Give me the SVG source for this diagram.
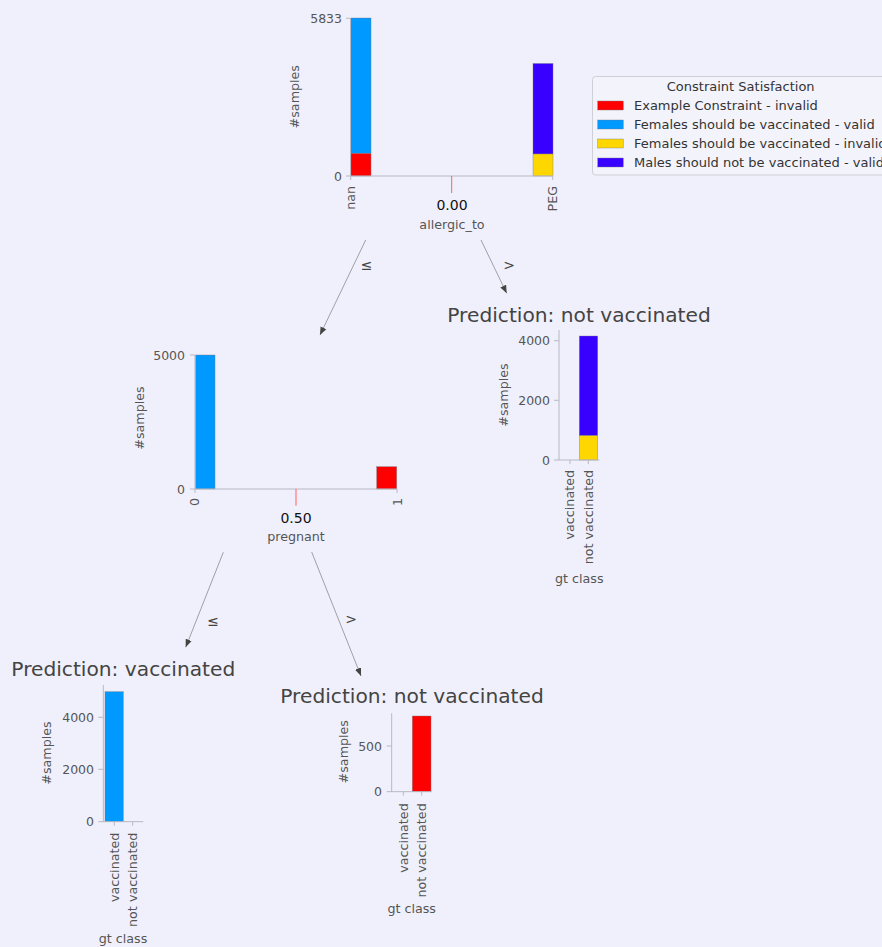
<svg xmlns="http://www.w3.org/2000/svg" width="882" height="947" viewBox="0 0 882 947">
<style>
text{font-family:"DejaVu Sans","Liberation Sans",sans-serif;fill:#444443}
.tk{font-size:12.5px;fill:#555555}
.lab{font-size:12.7px;fill:#555555}
.split{font-size:14px;fill:#111111}
.title{font-size:20.2px;fill:#444443;text-anchor:middle}
.ax{stroke:#b8b8c4;stroke-width:1;fill:none}
.tick{stroke:#b8b8c4;stroke-width:1}
.bar{stroke:#7a7a80;stroke-width:0.4}
.red{fill:#ff0000}.blue{fill:#0099ff}.yel{fill:#ffd700}.pur{fill:#3700ff}
.sl{stroke:#ff6060;stroke-width:1}
.edge{stroke:#8a8a8e;stroke-width:0.8;fill:none;marker-end:url(#ah)}
.el{font-size:14px;fill:#444443;text-anchor:middle}
.leg{font-size:13px;fill:#333333}
</style>
<defs>
<marker id="ah" viewBox="0 0 10 8" refX="10" refY="4" markerWidth="8" markerHeight="7" markerUnits="userSpaceOnUse" orient="auto">
<path d="M0,0 L10,4 L0,8 z" fill="#444443"/>
</marker>
</defs>
<rect x="0" y="0" width="882" height="947" fill="#f0f0fc"/>

<g id="connectors">
<line class="edge" x1="365.7" y1="240" x2="320" y2="335"/>
<line class="edge" x1="481" y1="240" x2="506.7" y2="293.3"/>
<line class="edge" x1="223.3" y1="552.3" x2="185.7" y2="647.3"/>
<line class="edge" x1="311.7" y1="552" x2="361" y2="676"/>
<text class="el" x="366.7" y="270">≤</text>
<text class="el" x="509" y="270">&gt;</text>
<text class="el" x="213" y="626">≤</text>
<text class="el" x="351" y="624">&gt;</text>
</g>

<g id="node-allergic_to">
<text class="lab" transform="translate(295,96.7) rotate(-90)" text-anchor="middle" dy="0.35em">#samples</text>
<rect class="bar blue" x="351" y="18" width="20" height="135.5"/>
<rect class="bar red" x="351" y="153.5" width="20" height="22.5"/>
<rect class="bar pur" x="533" y="63.5" width="20" height="90.5"/>
<rect class="bar yel" x="533" y="154" width="20" height="22"/>
<line class="ax" x1="350.5" y1="18" x2="350.5" y2="176"/>
<line class="ax" x1="350" y1="176" x2="553" y2="176"/>
<line class="tick" x1="346" y1="18.3" x2="350.5" y2="18.3"/>
<line class="tick" x1="346" y1="176" x2="350.5" y2="176"/>
<line class="tick" x1="350.7" y1="176" x2="350.7" y2="180"/>
<line class="tick" x1="552.7" y1="176" x2="552.7" y2="180"/>
<text class="tk" x="342" y="22.8" text-anchor="end">5833</text>
<text class="tk" x="342" y="180.5" text-anchor="end">0</text>
<line class="sl" x1="451.7" y1="176" x2="451.7" y2="193"/>
<text class="split" x="452" y="210" text-anchor="middle">0.00</text>
<text class="lab" x="452" y="229" text-anchor="middle">allergic_to</text>
<text class="lab" transform="translate(350.7,186) rotate(-90)" text-anchor="end" dy="0.35em">nan</text>
<text class="lab" transform="translate(552.7,186) rotate(-90)" text-anchor="end" dy="0.35em">PEG</text>
</g>

<g id="legend">
<rect x="592.5" y="76.5" width="300" height="98.5" rx="3" fill="#f3f3fc" stroke="#cfcfd6" stroke-width="1"/>
<text class="leg" x="740.7" y="91" text-anchor="middle">Constraint Satisfaction</text>
<rect class="bar red" x="597.7" y="101" width="25.6" height="9"/>
<text class="leg" x="634" y="110">Example Constraint - invalid</text>
<rect class="bar blue" x="597.7" y="120" width="25.6" height="9"/>
<text class="leg" x="634" y="129">Females should be vaccinated - valid</text>
<rect class="bar yel" x="597.7" y="139" width="25.6" height="9"/>
<text class="leg" x="634" y="148">Females should be vaccinated - invalid</text>
<rect class="bar pur" x="597.7" y="158" width="25.6" height="9"/>
<text class="leg" x="634" y="167">Males should not be vaccinated - valid</text>
</g>

<g id="node-pregnant">
<text class="lab" transform="translate(139.3,418) rotate(-90)" text-anchor="middle" dy="0.35em">#samples</text>
<rect class="bar blue" x="195.5" y="355" width="19.5" height="134"/>
<rect class="bar red" x="376.7" y="466.7" width="20" height="22.3"/>
<line class="ax" x1="195" y1="355" x2="195" y2="489"/>
<line class="ax" x1="195" y1="489" x2="397.3" y2="489"/>
<line class="tick" x1="190" y1="355" x2="195" y2="355"/>
<line class="tick" x1="190" y1="489" x2="195" y2="489"/>
<line class="tick" x1="195" y1="489" x2="195" y2="493"/>
<line class="tick" x1="397" y1="489" x2="397" y2="493"/>
<text class="tk" x="185" y="359.5" text-anchor="end">5000</text>
<text class="tk" x="185" y="493.5" text-anchor="end">0</text>
<line class="sl" x1="296" y1="489" x2="296" y2="505.7"/>
<text class="split" x="296" y="522.7" text-anchor="middle">0.50</text>
<text class="lab" x="296" y="541" text-anchor="middle">pregnant</text>
<text class="lab" transform="translate(195,498) rotate(-90)" text-anchor="end" dy="0.35em">0</text>
<text class="lab" transform="translate(397.3,498) rotate(-90)" text-anchor="end" dy="0.35em">1</text>
</g>

<g id="leaf-not-vaccinated-1">
<text class="title" x="579" y="321.5">Prediction: not vaccinated</text>
<text class="lab" transform="translate(504,395) rotate(-90)" text-anchor="middle" dy="0.35em">#samples</text>
<rect class="bar pur" x="579.3" y="336" width="18.4" height="99.7"/>
<rect class="bar yel" x="579.3" y="435.7" width="18.4" height="24.3"/>
<line class="ax" x1="559" y1="330" x2="559" y2="460"/>
<line class="ax" x1="554" y1="460" x2="599.3" y2="460"/>
<line class="tick" x1="554" y1="340.7" x2="559" y2="340.7"/>
<line class="tick" x1="554" y1="400.3" x2="559" y2="400.3"/>
<line class="tick" x1="570" y1="460" x2="570" y2="464"/>
<line class="tick" x1="588.3" y1="460" x2="588.3" y2="464"/>
<text class="tk" x="550" y="345.2" text-anchor="end">4000</text>
<text class="tk" x="550" y="404.8" text-anchor="end">2000</text>
<text class="tk" x="550" y="464.5" text-anchor="end">0</text>
<text class="lab" transform="translate(570,470) rotate(-90)" text-anchor="end" dy="0.35em">vaccinated</text>
<text class="lab" transform="translate(588.3,470) rotate(-90)" text-anchor="end" dy="0.35em">not vaccinated</text>
<text class="lab" x="579.3" y="583" text-anchor="middle">gt class</text>
</g>

<g id="leaf-vaccinated">
<text class="title" x="123.3" y="676">Prediction: vaccinated</text>
<text class="lab" transform="translate(46.7,753) rotate(-90)" text-anchor="middle" dy="0.35em">#samples</text>
<rect class="bar blue" x="105" y="691.7" width="18.3" height="130"/>
<line class="ax" x1="103.3" y1="685" x2="103.3" y2="821.7"/>
<line class="ax" x1="98.3" y1="821.7" x2="143.3" y2="821.7"/>
<line class="tick" x1="98.3" y1="717.3" x2="103.3" y2="717.3"/>
<line class="tick" x1="98.3" y1="769.3" x2="103.3" y2="769.3"/>
<line class="tick" x1="114.3" y1="821.7" x2="114.3" y2="825.7"/>
<line class="tick" x1="132.7" y1="821.7" x2="132.7" y2="825.7"/>
<text class="tk" x="94" y="721.8" text-anchor="end">4000</text>
<text class="tk" x="94" y="773.8" text-anchor="end">2000</text>
<text class="tk" x="94" y="826.2" text-anchor="end">0</text>
<text class="lab" transform="translate(114.3,832.7) rotate(-90)" text-anchor="end" dy="0.35em">vaccinated</text>
<text class="lab" transform="translate(132.7,832.7) rotate(-90)" text-anchor="end" dy="0.35em">not vaccinated</text>
<text class="lab" x="123" y="943" text-anchor="middle">gt class</text>
</g>

<g id="leaf-not-vaccinated-2">
<text class="title" x="412" y="703.3">Prediction: not vaccinated</text>
<text class="lab" transform="translate(343.3,751.7) rotate(-90)" text-anchor="middle" dy="0.35em">#samples</text>
<rect class="bar red" x="412.3" y="716" width="18.7" height="75.7"/>
<line class="ax" x1="391.7" y1="713.3" x2="391.7" y2="791.7"/>
<line class="ax" x1="386.7" y1="791.7" x2="431.7" y2="791.7"/>
<line class="tick" x1="386.7" y1="746" x2="391.7" y2="746"/>
<line class="tick" x1="403.3" y1="791.7" x2="403.3" y2="795.7"/>
<line class="tick" x1="421.7" y1="791.7" x2="421.7" y2="795.7"/>
<text class="tk" x="382" y="750.5" text-anchor="end">500</text>
<text class="tk" x="382" y="796.2" text-anchor="end">0</text>
<text class="lab" transform="translate(403.3,803.3) rotate(-90)" text-anchor="end" dy="0.35em">vaccinated</text>
<text class="lab" transform="translate(421.7,803.3) rotate(-90)" text-anchor="end" dy="0.35em">not vaccinated</text>
<text class="lab" x="411.7" y="913.3" text-anchor="middle">gt class</text>
</g>
</svg>
